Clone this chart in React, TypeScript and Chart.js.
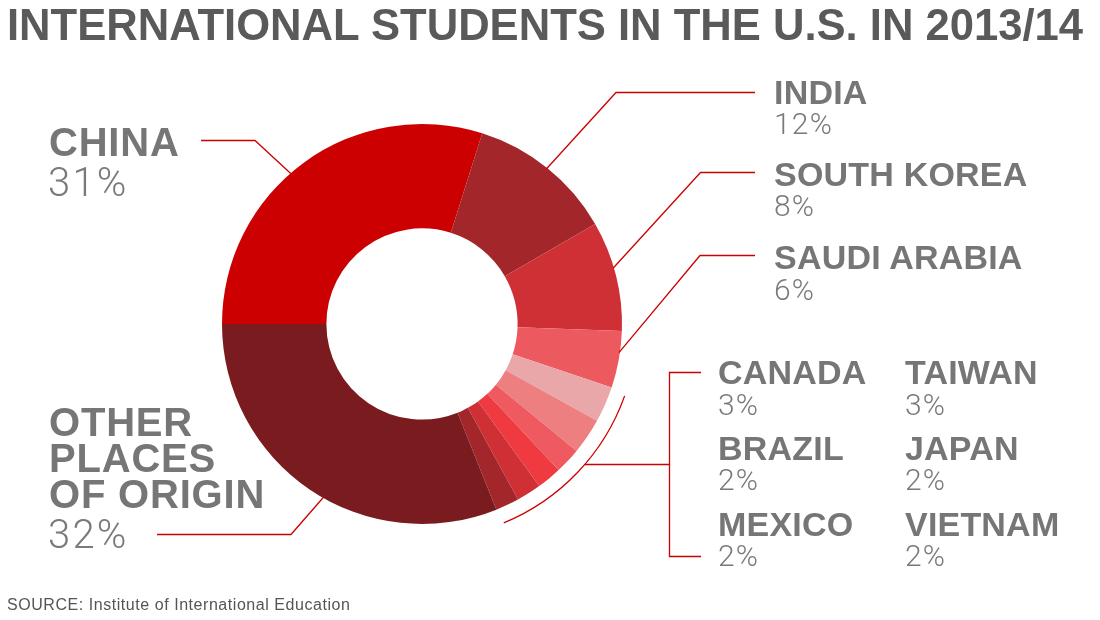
import React, { useEffect, useLayoutEffect, useRef } from "react";
import { Chart, registerables } from "chart.js";

Chart.register(...registerables);

// ---------- data ----------
const CATEGORIES = [
  "China",
  "India",
  "South Korea",
  "Saudi Arabia",
  "Canada",
  "Taiwan",
  "Brazil",
  "Japan",
  "Mexico",
  "Vietnam",
  "Other places of origin",
];
// slice sizes
const SLICE_VALUES = [29.9, 11.8, 8.9, 4.6, 2.9, 2.9, 2.1, 2.0, 2.0, 1.9, 31.1];
// percentages printed in the labels
const LABEL_PERCENTS = [31, 12, 8, 6, 3, 3, 2, 2, 2, 2, 32];
const SLICE_COLORS = [
  "#CC0000",
  "#A3262A",
  "#CF3035",
  "#EC595F",
  "#E9A7A9",
  "#ED7F81",
  "#EE5A60",
  "#EE3A40",
  "#CF3035",
  "#A3262A",
  "#7A1C1F",
];

const TITLE = "INTERNATIONAL STUDENTS IN THE U.S. IN 2013/14";
const SOURCE = "SOURCE: Institute of International Education";

const LINE_COLOR = "#CC0000";
const BOLD_GRAY = "#767676";
const LIGHT_GRAY = "#7a7a7a";

// leader lines: slice index, fraction along slice, elbow, end
const LEADERS = [
  { index: 0, frac: 0.455, elbow: [255, 140.5], end: [201, 140.5] },
  { index: 1, frac: 0.5, elbow: [616, 92.5], end: [755, 92.5] },
  { index: 2, frac: 0.43, elbow: [700.5, 172.5], end: [755, 172.5] },
  { index: 3, frac: 0.38, elbow: [700, 255.5], end: [755, 255.5] },
  { index: 10, frac: 0.46, elbow: [291, 534.5], end: [157, 534.5] },
];
const GROUP = { first: 4, last: 9, gap: 15, bracketX: 669.5, top: 372.5, bottom: 556.5, tickX: 701 };

const leaderPlugin = {
  id: "leaders",
  afterDraw(chart: any) {
    const ctx = chart.ctx;
    const arcs = chart.getDatasetMeta(0).data;
    ctx.save();
    ctx.strokeStyle = LINE_COLOR;
    ctx.lineWidth = 1.3;
    LEADERS.forEach((l) => {
      const a = arcs[l.index];
      const p = a.getProps(["x", "y", "startAngle", "endAngle", "outerRadius"], true);
      const ang = p.startAngle + (p.endAngle - p.startAngle) * l.frac;
      const r = p.outerRadius - 1;
      ctx.beginPath();
      ctx.moveTo(p.x + r * Math.cos(ang), p.y + r * Math.sin(ang));
      ctx.lineTo(l.elbow[0], l.elbow[1]);
      ctx.lineTo(l.end[0], l.end[1]);
      ctx.stroke();
    });
    // group arc
    const f = arcs[GROUP.first].getProps(["x", "y", "startAngle", "outerRadius"], true);
    const g = arcs[GROUP.last].getProps(["endAngle"], true);
    const R = f.outerRadius + GROUP.gap;
    const inset = (1 * Math.PI) / 180;
    ctx.beginPath();
    ctx.arc(f.x, f.y, R, f.startAngle + inset, g.endAngle - inset * 0.5);
    ctx.stroke();
    // connector + bracket
    const midY = (GROUP.top + GROUP.bottom) / 2;
    const dy = midY - f.y;
    const ax = f.x + Math.sqrt(Math.max(0, R * R - dy * dy));
    ctx.beginPath();
    ctx.moveTo(ax, midY);
    ctx.lineTo(GROUP.bracketX, midY);
    ctx.stroke();
    ctx.beginPath();
    ctx.moveTo(GROUP.tickX, GROUP.top);
    ctx.lineTo(GROUP.bracketX, GROUP.top);
    ctx.lineTo(GROUP.bracketX, GROUP.bottom);
    ctx.lineTo(GROUP.tickX, GROUP.bottom);
    ctx.stroke();
    ctx.restore();
  },
};

const BOLD_FONT = '"Liberation Sans", Arial, sans-serif';
const LIGHT_FONT = 'Roboto, "Open Sans", sans-serif';

function Label(props: {
  text: string;
  x: number;
  baseline: number;
  size: number;
  weight: number;
  family: string;
  color: string;
  ratio?: number;
  spacing?: number;
}) {
  const ratio = props.ratio ?? 0.8465;
  return (
    <div
      style={{
        position: "absolute",
        left: props.x,
        top: props.baseline - ratio * props.size,
        fontSize: props.size,
        lineHeight: `${props.size}px`,
        fontWeight: props.weight,
        fontFamily: props.family,
        color: props.color,
        whiteSpace: "nowrap",
        letterSpacing: props.spacing ?? 0,
      }}
    >
      {props.text}
    </div>
  );
}

function Name(p: { text: string; x: number; baseline: number; size: number }) {
  return (
    <Label
      text={p.text}
      x={p.x}
      baseline={p.baseline}
      size={p.size}
      weight={700}
      family={BOLD_FONT}
      color={BOLD_GRAY}
      spacing={p.size > 36 ? 0.8 : 0.2}
    />
  );
}
function Pct(p: { value: number; x: number; baseline: number; size: number }) {
  return (
    <Label
      text={`${p.value}%`}
      x={p.x}
      baseline={p.baseline}
      size={p.size}
      weight={300}
      family={LIGHT_FONT}
      color={LIGHT_GRAY}
      ratio={0.842}
      spacing={p.size > 36 ? 2.2 : 1.2}
    />
  );
}

export default function App() {
  const canvasRef = useRef<HTMLCanvasElement | null>(null);
  const titleRef = useRef<HTMLSpanElement | null>(null);

  useLayoutEffect(() => {
    const el = titleRef.current;
    if (!el) return;
    el.style.transform = "none";
    const w = el.getBoundingClientRect().width;
    if (w > 0) el.style.transform = `scaleX(${1076 / w})`;
  }, []);

  useEffect(() => {
    if (!canvasRef.current) return;
    const chart = new Chart(canvasRef.current, {
      type: "doughnut",
      data: {
        labels: CATEGORIES,
        datasets: [
          {
            data: SLICE_VALUES,
            backgroundColor: SLICE_COLORS,
            borderWidth: 0,
          },
        ],
      },
      options: {
        responsive: false,
        animation: false,
        rotation: -90,
        cutout: "47.8%",
        layout: { padding: { left: 222, right: 478, top: 124, bottom: 96 } },
        plugins: { legend: { display: false }, tooltip: { enabled: false } },
        events: [],
      },
      plugins: [leaderPlugin],
    });
    return () => chart.destroy();
  }, []);

  return (
    <div
      style={{
        position: "absolute",
        left: 0,
        top: 0,
        width: 1100,
        height: 620,
        background: "#fff",
        overflow: "hidden",
      }}
    >
      <canvas ref={canvasRef} width={1100} height={620} style={{ position: "absolute", left: 0, top: 0 }} />
      <div
        style={{
          position: "absolute",
          left: 7,
          top: 40 - 0.8465 * 45,
          fontFamily: '"Liberation Sans Narrow", "Liberation Sans", Arial, sans-serif',
          fontWeight: 700,
          fontSize: 45,
          lineHeight: "45px",
          color: "#5a5a5a",
          whiteSpace: "nowrap",
        }}
      >
        <span ref={titleRef} style={{ display: "inline-block", transformOrigin: "0 0" }}>
          {TITLE}
        </span>
      </div>

      {/* left labels */}
      <Name text="CHINA" x={49} baseline={156} size={40} />
      <Pct value={LABEL_PERCENTS[0]} x={48} baseline={196.5} size={40} />
      <Name text="OTHER" x={49} baseline={435.5} size={40} />
      <Name text="PLACES" x={49} baseline={471.5} size={40} />
      <Name text="OF ORIGIN" x={49} baseline={507.5} size={40} />
      <Pct value={LABEL_PERCENTS[10]} x={48} baseline={548.3} size={40} />

      {/* right labels */}
      <Name text="INDIA" x={774} baseline={103.3} size={34} />
      <Pct value={LABEL_PERCENTS[1]} x={774} baseline={134} size={30} />
      <Name text="SOUTH KOREA" x={774} baseline={186} size={34} />
      <Pct value={LABEL_PERCENTS[2]} x={774} baseline={216.7} size={30} />
      <Name text="SAUDI ARABIA" x={774} baseline={268.3} size={34} />
      <Pct value={LABEL_PERCENTS[3]} x={774} baseline={300} size={30} />

      {/* grouped small labels */}
      <Name text="CANADA" x={718} baseline={384} size={34} />
      <Pct value={LABEL_PERCENTS[4]} x={718} baseline={415} size={30} />
      <Name text="TAIWAN" x={905} baseline={384} size={34} />
      <Pct value={LABEL_PERCENTS[5]} x={905} baseline={415} size={30} />
      <Name text="BRAZIL" x={718} baseline={460} size={34} />
      <Pct value={LABEL_PERCENTS[6]} x={718} baseline={490.7} size={30} />
      <Name text="JAPAN" x={905} baseline={460} size={34} />
      <Pct value={LABEL_PERCENTS[7]} x={905} baseline={490.7} size={30} />
      <Name text="MEXICO" x={718} baseline={535.7} size={34} />
      <Pct value={LABEL_PERCENTS[8]} x={718} baseline={566.7} size={30} />
      <Name text="VIETNAM" x={905} baseline={535.7} size={34} />
      <Pct value={LABEL_PERCENTS[9]} x={905} baseline={566.7} size={30} />

      <Label
        text={SOURCE}
        x={7}
        baseline={611}
        size={16}
        weight={400}
        family={BOLD_FONT}
        color="#555"
        spacing={0.55}
      />
    </div>
  );
}
